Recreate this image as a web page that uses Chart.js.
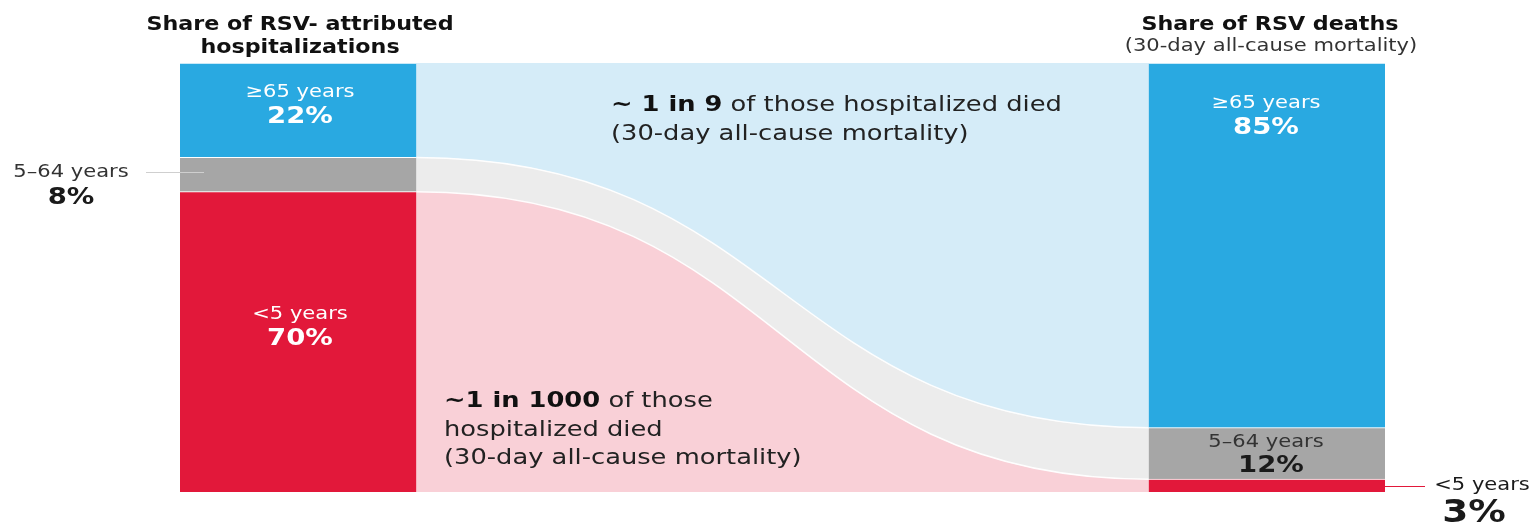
<!DOCTYPE html>
<html>
<head>
<meta charset="utf-8">
<script src="https://cdn.jsdelivr.net/npm/chart.js@4.4.1/dist/chart.umd.min.js"></script>
<style>
  html, body { margin: 0; padding: 0; background: #fff; }
  #wrap { position: relative; width: 1529px; height: 523px; font-family: "DejaVu Sans", sans-serif; color: #1a1a1a; }
  #wrap canvas { position: absolute; left: 0; top: 0; }
  .lbl { position: absolute; white-space: nowrap; line-height: 1; }
  /* the source lettering is a wide grotesque, so stretch a little */
  .c { transform: translate(-50%, -50%) scaleX(1.17); text-align: center; }
  .title { font-weight: 700; font-size: 19px; color: #111; }
  .sub { font-size: 18px; color: #333; }
  .age { font-size: 18px; }
  .pct { font-weight: 700; font-size: 23.5px; }
  .white { color: #fff; }
  .note { font-size: 22px; line-height: 28.5px; color: #222; transform: scaleX(1.17); transform-origin: left top; }
  .note b { font-weight: 700; color: #111; }
  .rule { position: absolute; height: 1px; }
</style>
</head>
<body>
<div id="wrap">
  <canvas id="chart" width="1529" height="523"></canvas>

  <div class="lbl c title" style="left:300px; top:23px;">Share of RSV- attributed</div>
  <div class="lbl c title" style="left:300px; top:46px;">hospitalizations</div>
  <div class="lbl c title" style="left:1270px; top:23px;">Share of RSV deaths</div>
  <div class="lbl c sub" style="left:1271px; top:45px;">(30-day all-cause mortality)</div>

  <div class="lbl c age white" style="left:300px; top:91px;">≥65 years</div>
  <div class="lbl c pct white" style="left:300px; top:116px;">22%</div>
  <div class="lbl c age white" style="left:300px; top:313px;">&lt;5 years</div>
  <div class="lbl c pct white" style="left:300px; top:338px;">70%</div>

  <div class="lbl c age" style="left:71px; top:171px; color:#333;">5–64 years</div>
  <div class="lbl c pct" style="left:71px; top:197px;">8%</div>
  <div class="rule" style="left:146px; top:172px; width:58px; background:#cfcfcf;"></div>

  <div class="lbl c age white" style="left:1266px; top:102px;">≥65 years</div>
  <div class="lbl c pct white" style="left:1266px; top:127px;">85%</div>
  <div class="lbl c age" style="left:1266px; top:441px; color:#333;">5–64 years</div>
  <div class="lbl c pct" style="left:1271px; top:465px;">12%</div>

  <div class="rule" style="left:1385px; top:486px; width:40px; background:#e2183a;"></div>
  <div class="lbl c age" style="left:1482px; top:484px;">&lt;5 years</div>
  <div class="lbl c pct" style="left:1474px; top:511px; font-size:32px;">3%</div>

  <div class="lbl note" style="left:611px; top:90px;"><b>~ 1 in 9</b> of those hospitalized died<br>(30-day all-cause mortality)</div>
  <div class="lbl note" style="left:444px; top:386px;"><b>~1 in 1000</b> of those<br>hospitalized died<br>(30-day all-cause mortality)</div>
</div>

<script>
// age groups, bottom to top
const groups = ['<5 years', '5–64 years', '≥65 years'];
const hospShare = [70, 8, 22];    // share of RSV-attributed hospitalizations (%)
const deathShare = [3, 12, 85];   // share of RSV deaths (%)

const solidColors = ['#e2183a', '#a6a6a6', '#29a9e1'];
const lightColors = ['#f9d0d7', '#ececec', '#d5ecf8'];

// x layout: left bar [0,1], flow, right bar [4.1,5.1]
const BAR_W = 1;
const GAP = 3.1;
const leftX = BAR_W / 2;
const rightX = BAR_W + GAP + BAR_W / 2;
const xEdges = [0, BAR_W, BAR_W + GAP, BAR_W * 2 + GAP];
const LINK_CURVE = 0.5;

function cumulative(arr) {
    const out = [0];
    arr.forEach(v => out.push(out[out.length - 1] + v));
    return out;
}

const cumHosp = cumulative(hospShare);
const cumDeath = cumulative(deathShare);

// flow bands between the two bars (drawn under the bars)
const flowSets = [];
for (let i = 1; i <= groups.length; i++) {
    flowSets.push({
        type: 'line',
        label: 'flow ' + groups[i - 1],
        data: [
            { x: xEdges[0], y: cumHosp[i] },
            { x: xEdges[1], y: cumHosp[i] },
            { x: xEdges[2], y: cumDeath[i] },
            { x: xEdges[3], y: cumDeath[i] }
        ],
        cubicInterpolationMode: 'monotone',
        borderColor: i < groups.length ? 'rgba(255,255,255,0.95)' : 'rgba(0,0,0,0)',
        borderWidth: i < groups.length ? 1.5 : 0,
        pointRadius: 0,
        backgroundColor: lightColors[i - 1],
        fill: i === 1 ? 'origin' : '-1',
        order: 1
    });
}

// stacked bars as floating segments
const barSets = groups.map((g, i) => ({
    type: 'bar',
    label: g,
    data: [
        { x: leftX, y: [cumHosp[i], cumHosp[i + 1]] },
        { x: rightX, y: [cumDeath[i], cumDeath[i + 1]] }
    ],
    backgroundColor: solidColors[i],
    borderColor: '#ffffff',
    borderWidth: { top: 1, bottom: 0, left: 0, right: 0 },
    borderSkipped: false,
    grouped: false,
    barPercentage: 1,
    categoryPercentage: 1,
    order: 0
}));

// widen the bezier handles of the links (sankey-like curve)
const linkCurvePlugin = {
    id: 'linkCurve',
    beforeDatasetsDraw(chart) {
        chart.data.datasets.forEach((ds, idx) => {
            if (ds.type !== 'line') return;
            const meta = chart.getDatasetMeta(idx);
            const line = meta.dataset;
            if (!line) return;
            line.updateControlPoints(chart.chartArea, 'x');
            const pts = meta.data;
            if (pts.length < 4) return;
            const a = pts[1], b = pts[2];
            const dx = b.x - a.x;
            a.cp2x = a.x + dx * LINK_CURVE;
            a.cp2y = a.y;
            b.cp1x = b.x - dx * LINK_CURVE;
            b.cp1y = b.y;
        });
    }
};

const chart = new Chart(document.getElementById('chart'), {
    data: { datasets: [...barSets, ...flowSets] },
    options: {
        responsive: false,
        animation: false,
        layout: { padding: { left: 180, right: 144, top: 63, bottom: 31 } },
        plugins: { legend: { display: false }, tooltip: { enabled: false } },
        scales: {
            x: {
                type: 'linear',
                display: false,
                offset: false,
                min: xEdges[0],
                max: xEdges[3],
                afterBuildTicks: scale => {
                    scale.ticks = xEdges.map(v => ({ value: v }));
                }
            },
            y: { display: false, min: 0, max: 100 }
        }
    },
    plugins: [linkCurvePlugin]
});
</script>
</body>
</html>
